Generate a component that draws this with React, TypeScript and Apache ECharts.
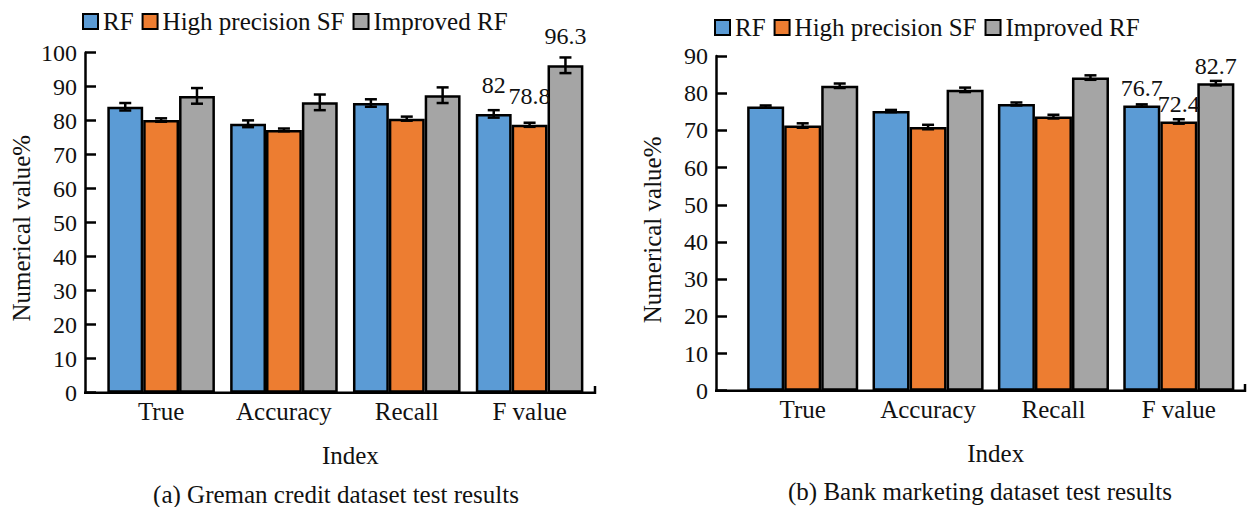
import React, { useEffect, useRef } from "react";
import * as echarts from "echarts";

const categories = ["True", "Accuracy", "Recall", "F value"];
const seriesNames = ["RF", "High precision SF", "Improved RF"];
const colors = ["#5B9BD5", "#ED7D31", "#A5A5A5"];

const germanRF = [84.1, 79.1, 85.2, 82];
const germanHSF = [80.2, 77.3, 80.6, 78.8];
const germanIRF = [87.3, 85.4, 87.5, 96.3];
const germanRFErr = [1.1, 1.0, 1.1, 1.1];
const germanHSFErr = [0.5, 0.4, 0.6, 0.6];
const germanIRFErr = [2.3, 2.3, 2.3, 2.3];

const bankRF = [76.4, 75.2, 77.1, 76.7];
const bankHSF = [71.3, 70.9, 73.7, 72.4];
const bankIRF = [82.0, 80.9, 84.2, 82.7];
const bankRFErr = [0.3, 0.3, 0.4, 0.3];
const bankHSFErr = [0.6, 0.6, 0.5, 0.6];
const bankIRFErr = [0.6, 0.6, 0.6, 0.6];

const yTicksGerman = { min: 0, max: 100, interval: 10 };
const yTicksBank = { min: 0, max: 90, interval: 10 };

const FONT = "'Liberation Serif', 'Times New Roman', Times, serif";
const LEFT_GAP = 0.124;
const RIGHT_GAP = 0.114;

function barSeries(name: string, idx: number, values: number[], axis: number, gap: number, labelDist: number) {
  return {
    type: "bar",
    name,
    xAxisIndex: axis,
    yAxisIndex: axis,
    barGap: "0%",
    barCategoryGap: (gap * 100).toFixed(1) + "%",
    itemStyle: { color: colors[idx], borderColor: "#000", borderWidth: 2.5 },
    label: {
      show: false,
      position: "top",
      distance: labelDist,
      fontFamily: FONT,
      fontSize: 24,
      color: "#111",
    },
    data: values.map((v, i) => (i === 3 ? { value: v, label: { show: true } } : v)),
    z: 2,
  };
}

function errSeries(idx: number, values: number[], errs: number[], axis: number, gap: number) {
  return {
    type: "custom",
    xAxisIndex: axis,
    yAxisIndex: axis,
    z: 10,
    silent: true,
    encode: { x: 0, y: 1 },
    data: values.map((v, i) => [i, v, errs[i]]),
    renderItem: (params: any, api: any) => {
      const cat = api.value(0);
      const v = api.value(1);
      const e = api.value(2);
      const band = api.size([1, 0])[0];
      const bw = (band * (1 - gap)) / 3;
      const cx = api.coord([cat, v])[0] + (idx - 1) * bw;
      const yt = api.coord([cat, v + e])[1];
      const yb = api.coord([cat, v - e])[1];
      const h = 6;
      const style = { stroke: "#000", lineWidth: 2.5 };
      return {
        type: "group",
        children: [
          { type: "line", shape: { x1: cx, y1: yt, x2: cx, y2: yb }, style },
          { type: "line", shape: { x1: cx - h, y1: yt, x2: cx + h, y2: yt }, style },
          { type: "line", shape: { x1: cx - h, y1: yb, x2: cx + h, y2: yb }, style },
        ],
      };
    },
  };
}

export default function App() {
  const ref = useRef<HTMLDivElement>(null);
  useEffect(() => {
    document.body.style.margin = "0";
    if (!ref.current) return;
    const chart = echarts.init(ref.current, null, { renderer: "svg" });
    const axisLineStyle = { color: "#000", width: 2.5 };
    const legendBase = {
      data: seriesNames,
      icon: "rect",
      itemWidth: 15,
      itemHeight: 15,
      itemGap: 8,
      padding: 0,
      itemStyle: { borderColor: "#000", borderWidth: 2 },
      textStyle: { fontFamily: FONT, fontSize: 25, color: "#111" },
      selectedMode: false,
    };
    const xAxisBase = (gridIndex: number) => ({
      type: "category",
      gridIndex,
      data: categories,
      axisLine: { show: false },
      axisTick: { show: false },
      axisLabel: { fontFamily: FONT, fontSize: 25, color: "#111", margin: 6, interval: 0 },
      name: "Index",
      nameLocation: "middle",
      nameGap: 50,
      nameTextStyle: { fontFamily: FONT, fontSize: 25, color: "#111", padding: [0, 0, 0, 10] },
    });
    const yAxisBase = (gridIndex: number, ticks: any, offset: number, pad: number) => ({
      type: "value",
      gridIndex,
      ...ticks,
      offset,
      splitLine: { show: false },
      axisLine: { show: true, lineStyle: axisLineStyle },
      axisTick: { show: true, inside: true, length: 11, lineStyle: axisLineStyle },
      axisLabel: { fontFamily: FONT, fontSize: 24, color: "#111", margin: 8 },
      name: "Numerical value%",
      nameLocation: "middle",
      nameGap: 51,
      nameTextStyle: { fontFamily: FONT, fontSize: 25, color: "#111", padding: [0, pad, 0, 0] },
    });
    const lineStyle = { stroke: "#000", lineWidth: 2.5 };
    const option: any = {
      animation: false,
      textStyle: { fontFamily: FONT },
      legend: [
        { ...legendBase, left: 82, top: 9 },
        { ...legendBase, left: 714, top: 15 },
      ],
      grid: [
        { left: 99.7, top: 52.7, width: 491.3, height: 340 },
        { left: 740, top: 56, width: 501.5, height: 334.7 },
      ],
      xAxis: [xAxisBase(0), xAxisBase(1)],
      yAxis: [yAxisBase(0, yTicksGerman, 14.7, 11), yAxisBase(1, yTicksBank, 24, 13)],
      series: [
        barSeries(seriesNames[0], 0, germanRF, 0, LEFT_GAP, 17),
        barSeries(seriesNames[1], 1, germanHSF, 0, LEFT_GAP, 17),
        barSeries(seriesNames[2], 2, germanIRF, 0, LEFT_GAP, 17),
        barSeries(seriesNames[0], 0, bankRF, 1, RIGHT_GAP, 5),
        barSeries(seriesNames[1], 1, bankHSF, 1, RIGHT_GAP, 5),
        barSeries(seriesNames[2], 2, bankIRF, 1, RIGHT_GAP, 5),
        errSeries(0, germanRF, germanRFErr, 0, LEFT_GAP),
        errSeries(1, germanHSF, germanHSFErr, 0, LEFT_GAP),
        errSeries(2, germanIRF, germanIRFErr, 0, LEFT_GAP),
        errSeries(0, bankRF, bankRFErr, 1, RIGHT_GAP),
        errSeries(1, bankHSF, bankHSFErr, 1, RIGHT_GAP),
        errSeries(2, bankIRF, bankIRFErr, 1, RIGHT_GAP),
      ],
      graphic: [
        { type: "line", shape: { x1: 84, y1: 392.7, x2: 596, y2: 392.7 }, style: lineStyle, z: 20 },
        { type: "line", shape: { x1: 595, y1: 393.9, x2: 595, y2: 386 }, style: lineStyle, z: 20 },
        { type: "line", shape: { x1: 715, y1: 390.7, x2: 1246, y2: 390.7 }, style: lineStyle, z: 20 },
        { type: "line", shape: { x1: 1245, y1: 391.9, x2: 1245, y2: 384 }, style: lineStyle, z: 20 },
        {
          type: "text",
          x: 336,
          y: 494,
          style: {
            text: "(a) Greman credit dataset test results",
            fontFamily: FONT,
            fontSize: 25,
            fill: "#111",
            textAlign: "center",
            textVerticalAlign: "middle",
          },
        },
        {
          type: "text",
          x: 980,
          y: 491.5,
          style: {
            text: "(b) Bank marketing dataset test results",
            fontFamily: FONT,
            fontSize: 25,
            fill: "#111",
            textAlign: "center",
            textVerticalAlign: "middle",
          },
        },
      ],
    };
    chart.setOption(option);
    return () => chart.dispose();
  }, []);
  return <div ref={ref} style={{ width: 1247, height: 507 }} />;
}
